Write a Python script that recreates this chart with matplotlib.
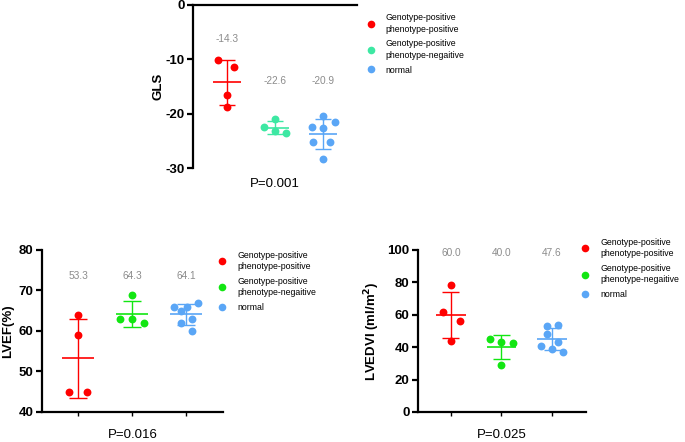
import numpy as np
import matplotlib
matplotlib.use('Agg')
import matplotlib.pyplot as plt
from matplotlib.lines import Line2D

plt.rcParams['font.family'] = ['Liberation Sans', 'DejaVu Sans']

# Grupos
grupos = ['Genotype-positive\nphenotype-positive',
          'Genotype-positive\nphenotype-negaitive',
          'normal']

# GLS
gls_pos_pos = [-10.2, -11.5, -16.5, -18.8]
gls_pos_neg = [-21.0, -22.5, -23.2, -23.6]
gls_normal = [-20.4, -21.5, -22.4, -22.6, -25.2, -25.3, -28.4]
gls_rotulos = ['-14.3', '-22.6', '-20.9']

# LVEF (%)
lvef_pos_pos = [64, 59, 45, 45]
lvef_pos_neg = [69, 63, 63, 62]
lvef_normal = [66, 65, 66, 67, 62, 63, 60]
lvef_rotulos = ['53.3', '64.3', '64.1']

# LVEDVI (ml/m2)
lvedvi_pos_pos = [78.5, 61.5, 56, 44]
lvedvi_pos_neg = [45, 43.5, 42.5, 29]
lvedvi_normal = [53, 53.5, 48, 43, 40.5, 39, 37]
lvedvi_rotulos = ['60.0', '40.0', '47.6']

# Deslocamento horizontal dos pontos (jitter)
jit_gls = [[-0.19, 0.15, 0, 0], [0, -0.23, 0, 0.23],
           [0, 0.25, -0.22, 0, -0.2, 0.15, 0]]
jit_lvef = [[0, 0, -0.16, 0.17], [0, -0.22, 0, 0.23],
            [-0.23, -0.1, 0.02, 0.23, -0.1, 0.12, 0.12]]
jit_lvedvi = [[0.01, -0.16, 0.18, 0.01], [-0.22, 0, 0.22, 0],
              [-0.11, 0.11, -0.11, 0.11, -0.22, 0, 0.22]]

cor_vermelho = '#ff0000'
cor_teal = '#3de8a3'
cor_verde = '#12e612'
cor_azul = '#5aa6f6'
cor_rotulo = '#8c8c8c'


def painel(ax, dados, jitter, cores, rotulos, y_rotulos):
    for i, (vals, jit, cor) in enumerate(zip(dados, jitter, cores)):
        x = i + 1
        vals = np.array(vals)
        ax.scatter(x + np.array(jit), vals, s=32, color=cor, zorder=3,
                   linewidths=0)
        media = vals.mean()
        dp = vals.std(ddof=1)
        ax.hlines(media, x - 0.29, x + 0.29, color=cor, lw=1.2, zorder=2)
        ax.vlines(x, media - dp, media + dp, color=cor, lw=1.0, zorder=2)
        ax.hlines([media - dp, media + dp], x - 0.17, x + 0.17, color=cor,
                  lw=1.0, zorder=2)
        ax.text(x, y_rotulos[i], rotulos[i], ha='center', va='center',
                fontsize=7.3, color=cor_rotulo)
    for s in ax.spines.values():
        s.set_linewidth(1.6)
    ax.tick_params(axis='y', width=1.6, length=4, labelsize=9.5, pad=2)


def legenda(ax, cores, x, y):
    handles = [Line2D([], [], ls='', marker='o', ms=5.5, color=c,
                      markeredgewidth=0) for c in cores]
    leg = ax.legend(handles, grupos, loc='upper left', bbox_to_anchor=(x, y),
                    bbox_transform=ax.figure.transFigure, frameon=False,
                    fontsize=6.3, handletextpad=1.2, labelspacing=0.65,
                    borderaxespad=0, borderpad=0, handlelength=1)
    for t in leg.get_texts():
        t.set_linespacing(1.35)


fig = plt.figure(figsize=(6.85, 4.42), dpi=100)

# Painel GLS
ax1 = fig.add_axes([0.2818, 0.6199, 0.2394, 0.3688])
painel(ax1, [gls_pos_pos, gls_pos_neg, gls_normal], jit_gls,
       [cor_vermelho, cor_teal, cor_azul], gls_rotulos, [-6.3, -14.0, -14.0])
ax1.set_xlim(0.29, 3.71)
ax1.set_ylim(-30, 0)
ax1.set_yticks([0, -10, -20, -30])
ax1.set_yticklabels(['0', '-10', '-20', '-30'], fontweight='bold')
ax1.spines['bottom'].set_visible(False)
ax1.spines['right'].set_visible(False)
ax1.set_xticks([])
ax1.set_ylabel('GLS', fontsize=9.5, fontweight='bold', labelpad=1)
ax1.text(0.5, -0.1, 'P=0.001', transform=ax1.transAxes, ha='center',
         va='center', fontsize=9.5)
legenda(ax1, [cor_vermelho, cor_teal, cor_azul], 0.535, 0.97)

# Painel LVEF
ax2 = fig.add_axes([0.0613, 0.0679, 0.2642, 0.3665])
painel(ax2, [lvef_pos_pos, lvef_pos_neg, lvef_normal], jit_lvef,
       [cor_vermelho, cor_verde, cor_azul], lvef_rotulos, [73.5, 73.5, 73.5])
ax2.set_xlim(0.333, 3.685)
ax2.set_ylim(40, 80)
ax2.set_yticks([40, 50, 60, 70, 80])
ax2.set_yticklabels(['40', '50', '60', '70', '80'], fontweight='bold')
ax2.spines['top'].set_visible(False)
ax2.spines['right'].set_visible(False)
ax2.set_xticks([1, 2, 3])
ax2.set_xticklabels([])
ax2.tick_params(axis='x', length=3, width=1)
ax2.set_ylabel('LVEF(%)', fontsize=9.5, fontweight='bold', labelpad=3)
ax2.text(0.5, -0.14, 'P=0.016', transform=ax2.transAxes, ha='center',
         va='center', fontsize=9.5)
legenda(ax2, [cor_vermelho, cor_verde, cor_azul], 0.318, 0.433)

# Painel LVEDVI
ax3 = fig.add_axes([0.6102, 0.0679, 0.2453, 0.3665])
painel(ax3, [lvedvi_pos_pos, lvedvi_pos_neg, lvedvi_normal], jit_lvedvi,
       [cor_vermelho, cor_verde, cor_azul], lvedvi_rotulos, [98, 98, 98])
ax3.set_xlim(0.35, 3.67)
ax3.set_ylim(0, 100)
ax3.set_yticks([0, 20, 40, 60, 80, 100])
ax3.set_yticklabels(['0', '20', '40', '60', '80', '100'], fontweight='bold')
ax3.spines['top'].set_visible(False)
ax3.spines['right'].set_visible(False)
ax3.set_xticks([1, 2, 3])
ax3.set_xticklabels([])
ax3.tick_params(axis='x', length=3, width=1)
ax3.set_ylabel('LVEDVI (ml/m$^\\mathbf{2}$)', fontsize=9.5, fontweight='bold',
               labelpad=4)
ax3.text(0.5, -0.14, 'P=0.025', transform=ax3.transAxes, ha='center',
         va='center', fontsize=9.5)
legenda(ax3, [cor_vermelho, cor_verde, cor_azul], 0.848, 0.462)

fig.savefig('out.png', dpi=100)
